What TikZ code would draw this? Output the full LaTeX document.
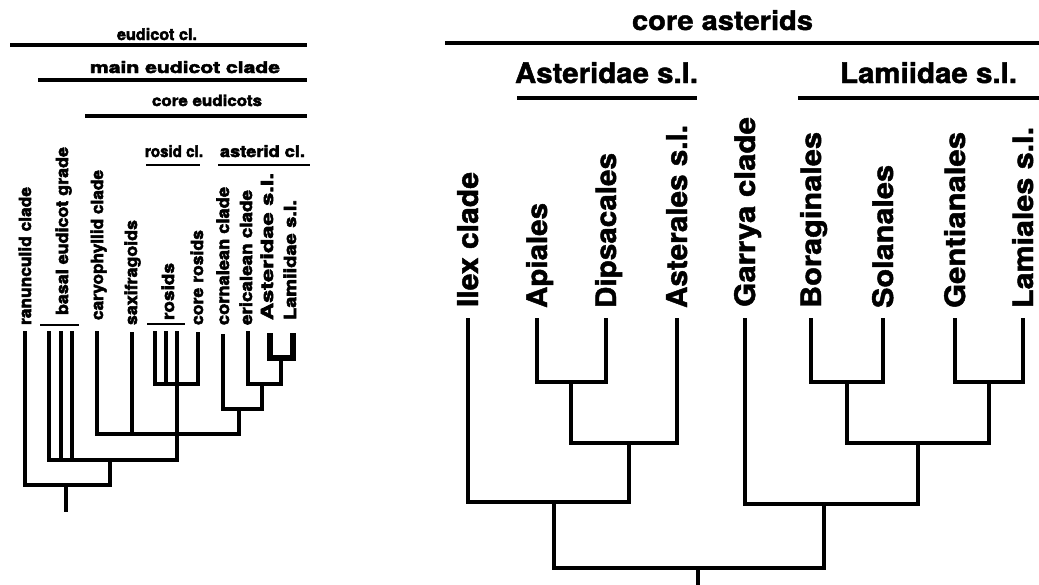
\documentclass[tikz,border=0pt]{standalone}
\usepackage{fontspec}
\setmainfont{TeX Gyre Heros}
\newfontfamily\heavyL{texgyreheros-bold.otf}[FakeBold=3]
\newfontfamily\heavyR{texgyreheros-bold.otf}[FakeBold=1.5]
\usepackage{graphicx}
\newcommand{\fitlab}[3]{\resizebox{#1pt}{#2pt}{\heavyL #3}}
\newcommand{\fitlabR}[3]{\resizebox{#1pt}{#2pt}{\heavyR #3}}
\begin{document}
\begin{tikzpicture}[x=1pt,y=-1pt,
  lab/.style={inner sep=0pt, outer sep=0pt, anchor=base west},
  rlab/.style={lab, rotate=90},
  lbr/.style={line width=3.4pt, line join=miter, line cap=rect},
  rbr/.style={line width=4.6pt, line join=miter, line cap=rect},
  lbar/.style={line width=3.2pt},
  sbar/.style={line width=2.5pt},
  rbar/.style={line width=4.4pt}]
\fill[white] (0,0) rectangle (1039,584);
\useasboundingbox (0,0) rectangle (1039,584);

% ================= LEFT TREE =================
% header labels
\node[lab] (eudL) at (117,40) {\fitlab{80}{12}{eudicot cl.}};
\node[lab] (mainL) at (90,73) {\fitlab{190}{12}{main eudicot clade}};
\node[lab] (coreL) at (152,106) {\fitlab{110}{11.5}{core eudicots}};
\node[lab] (rosclL) at (145,157) {\fitlab{58}{12}{rosid cl.}};
\node[lab] (astclL) at (220,157) {\fitlab{85}{12}{asterid cl.}};
\coordinate (eb1) at (10,45);  \coordinate (eb2) at (307,45);
\coordinate (mb1) at (38,80);  \coordinate (mb2) at (307,80);
\coordinate (cb1) at (85,116); \coordinate (cb2) at (307,116);
\coordinate (rb1) at (146,165); \coordinate (rb2) at (200,165);
\coordinate (ab1) at (218,165); \coordinate (ab2) at (310,165);
\draw[lbar] (eb1) -- (eb2);
\draw[lbar] (mb1) -- (mb2);
\draw[lbar] (cb1) -- (cb2);
\draw[sbar] (rb1) -- (rb2);
\draw[sbar] (ab1) -- (ab2);

% leaf labels (rotated)
\node[rlab] (ranL) at (31,325) {\fitlab{138}{12.5}{ranunculid clade}};
\node[rlab] (basL) at (68,315) {\fitlab{168}{12.5}{basal eudicot grade}};
\node[rlab] (carL) at (103,320) {\fitlab{150}{12.5}{caryophyllid clade}};
\node[rlab] (saxL) at (137,325) {\fitlab{105}{12.5}{saxifragoids}};
\node[rlab] (rosL) at (174,320) {\fitlab{57}{12.5}{rosids}};
\node[rlab] (croL) at (203,325) {\fitlab{95}{12.5}{core rosids}};
\node[rlab] (corL) at (229,325) {\fitlab{138}{12.5}{cornalean clade}};
\node[rlab] (eriL) at (252,325) {\fitlab{135}{12.5}{ericalean clade}};
\node[rlab] (astL) at (273,320) {\fitlab{147}{12.5}{Asteridae s.l.}};
\node[rlab] (lamL) at (296,320) {\fitlab{120}{12.5}{Lamiidae s.l.}};
\coordinate (bb1) at (40,325); \coordinate (bb2) at (79,325);
\coordinate (sb1) at (147,324); \coordinate (sb2) at (185,324);
\draw[sbar] (bb1) -- (bb2);
\draw[sbar] (sb1) -- (sb2);

% leaf tips
\coordinate (ran) at (25,333);
\coordinate (b1) at (49,333);
\coordinate (b2) at (61,333);
\coordinate (b3) at (72,333);
\coordinate (car) at (97,333);
\coordinate (sax) at (132,334);
\coordinate (r1) at (155,333);
\coordinate (r2) at (166,333);
\coordinate (r3) at (177,333);
\coordinate (cro) at (198,334);
\coordinate (cor) at (223,336);
\coordinate (eri) at (248,333);
\coordinate (ast) at (270,333);
\coordinate (lam) at (293,333);
% internal nodes
\coordinate (ASL) at (281,358);
\coordinate (EA) at (262,384);
\coordinate (CE) at (239,409);
\coordinate (ROS) at (177,384);
\coordinate (CR) at (177,434);
\coordinate (ME) at (110,460);
\coordinate (EU) at (66,485);
\coordinate (EUr) at (66,510);

\draw[lbr] (ran) |- (EU) -| (ME);
\draw[lbr] (EU) -- (EUr);
\draw[lbr] (b1) |- (ME) -| (CR);
\draw[lbr] (b2) -- (b2|-ME);
\draw[lbr] (b3) -- (b3|-ME);
\draw[lbr] (car) |- (CR) -| (CE);
\draw[lbr] (sax) -- (sax|-CR);
\draw[lbr] (ROS) -- (CR);
\draw[lbr] (r1) |- (ROS) -| (cro);
\draw[lbr] (r2) -- (r2|-ROS);
\draw[lbr] (r3) -- (ROS);
\draw[lbr] (cor) |- (CE) -| (EA);
\draw[lbr] (eri) |- (EA) -| (ASL);
\draw[line width=6.5pt, line join=miter] (ast) |- (ASL) -| (lam);

% ================= RIGHT TREE =================
\node[lab] (caL) at (632,30) {\fitlabR{181}{20}{core asterids}};
\node[lab] (asL) at (515,83) {\fitlabR{183}{21}{Asteridae s.l.}};
\node[lab] (lmL) at (840,83) {\fitlabR{177}{21}{Lamiidae s.l.}};
\coordinate (ca1) at (445,43); \coordinate (ca2) at (1039,43);
\coordinate (as1) at (517,98); \coordinate (as2) at (697,98);
\coordinate (lm1) at (798,98); \coordinate (lm2) at (1039,98);
\draw[rbar] (ca1) -- (ca2);
\draw[rbar] (as1) -- (as2);
\draw[rbar] (lm1) -- (lm2);

\node[rlab] (ilexL) at (478,307) {\fitlabR{135}{21}{Ilex clade}};
\node[rlab] (apiL) at (547,308) {\fitlabR{105}{21}{Apiales}};
\node[rlab] (dipL) at (616,308) {\fitlabR{155}{21}{Dipsacales}};
\node[rlab] (asrL) at (687,308) {\fitlabR{183}{21}{Asterales s.l.}};
\node[rlab] (garL) at (755,307) {\fitlabR{190}{21}{Garrya clade}};
\node[rlab] (borL) at (821,308) {\fitlabR{176}{21}{Boraginales}};
\node[rlab] (solL) at (893,308) {\fitlabR{143}{21}{Solanales}};
\node[rlab] (genL) at (965,308) {\fitlabR{176}{21}{Gentianales}};
\node[rlab] (lmsL) at (1033,308) {\fitlabR{181}{21}{Lamiales s.l.}};

\coordinate (ilex) at (468,320);
\coordinate (api) at (537,320);
\coordinate (dip) at (606,320);
\coordinate (asr) at (677,320);
\coordinate (gar) at (745,320);
\coordinate (bor) at (811,320);
\coordinate (sol) at (883,320);
\coordinate (gen) at (955,320);
\coordinate (lms) at (1023,320);
\coordinate (AD) at (571,382);
\coordinate (ADA) at (629,443);
\coordinate (AS) at (554,502);
\coordinate (BS) at (847,382);
\coordinate (GL) at (989,382);
\coordinate (BSGL) at (918,443);
\coordinate (LA) at (824,504);
\coordinate (root) at (698,568);
\coordinate (rootend) at (698,586);

\draw[rbr] (api) |- (AD) -| (dip);
\draw[rbr] (AD) |- (ADA) -| (asr);
\draw[rbr] (ilex) |- (AS) -| (ADA);
\draw[rbr] (bor) |- (BS) -| (sol);
\draw[rbr] (gen) |- (GL) -| (lms);
\draw[rbr] (BS) |- (BSGL) -| (GL);
\draw[rbr] (gar) |- (LA) -| (BSGL);
\draw[rbr] (AS) |- (root) -| (LA);
\draw[rbr] (root) -- (rootend);
\end{tikzpicture}
\end{document}
